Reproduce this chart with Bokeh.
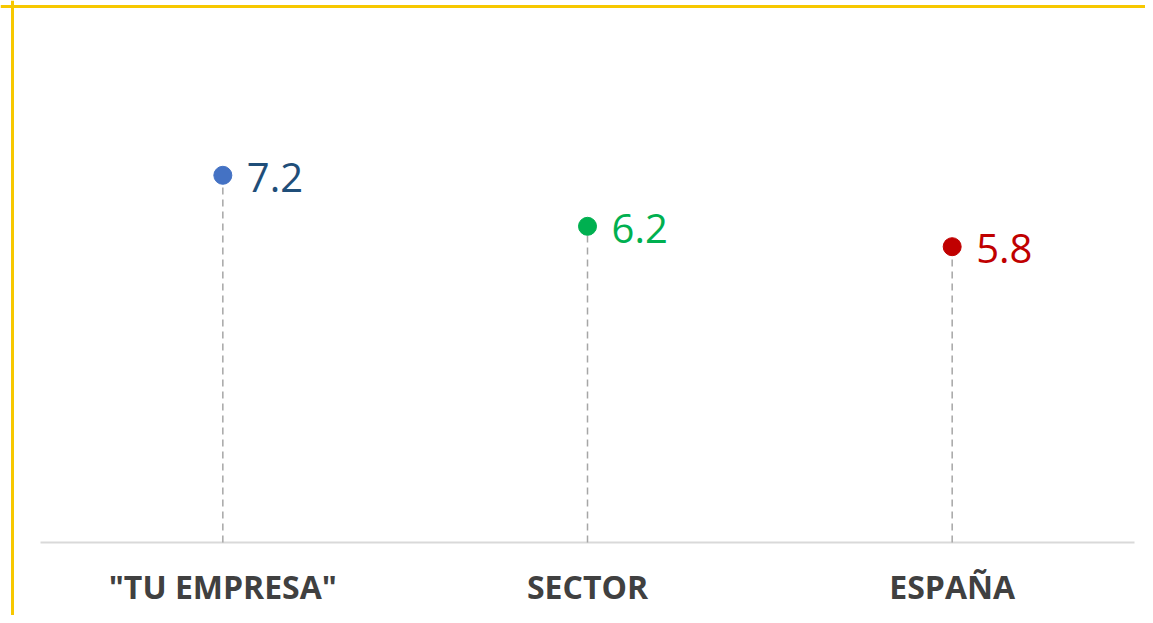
from bokeh.plotting import figure
from bokeh.models import ColumnDataSource, Range1d, Span
from bokeh.core.properties import value
from bokeh.embed import file_html
from bokeh.resources import INLINE

# ---- data ----
categories = ['"TU EMPRESA"', "SECTOR", "ESPAÑA"]
scores = [7.2, 6.2, 5.8]
dot_colors = ["#4472C4", "#00B050", "#C00000"]
label_colors = ["#1F4E79", "#00B050", "#C00000"]

# ---- layout constants ----
W, H = 1145, 615
CAT_PX = 364.67          # pixels per category slot
LEFT_EDGE = 40           # canvas x of plot-area left edge
BASE_Y = 542             # canvas y of the zero line
Y_PX = 51.0              # pixels per unit

xs = list(range(len(categories)))
x_start = -0.5 - LEFT_EDGE / CAT_PX
x_end = x_start + W / CAT_PX
y_start = -(H - BASE_Y) / Y_PX
y_end = BASE_Y / Y_PX

src = ColumnDataSource(dict(
    x=xs,
    y=scores,
    zero=[0] * len(xs),
    cat=categories,
    lab=[f"{v:.1f}" for v in scores],
    dot=dot_colors,
    lc=label_colors,
))

p = figure(width=W, height=H, output_backend="svg", toolbar_location=None,
           x_range=Range1d(x_start, x_end), y_range=Range1d(y_start, y_end),
           x_axis_location=None, y_axis_location=None,
           min_border=0, min_border_left=0, min_border_right=0,
           min_border_top=0, min_border_bottom=0)
p.grid.visible = False
p.outline_line_color = None
p.background_fill_color = "white"
p.border_fill_color = "white"

# yellow frame (top and left visible)
p.add_layout(Span(location=y_end - 6 / Y_PX, dimension="width",
                  line_color="#F7C800", line_width=3))
p.add_layout(Span(location=x_start + 12 / CAT_PX, dimension="height",
                  line_color="#F7C800", line_width=3))

# category axis line
p.segment(x0=[-0.5], y0=[0], x1=[len(categories) - 0.5], y1=[0],
          line_color="#D9D9D9", line_width=2)

# dashed stems
p.segment(x0="x", y0="zero", x1="x", y1="y", source=src,
          line_color="#A6A6A6", line_width=1.5, line_dash="7 5")

# dots
p.scatter(x="x", y="y", source=src, size=18, fill_color="dot",
          line_color="dot")

# value labels
p.text(x="x", y="y", text="lab", source=src, text_color="lc",
       text_font=value("Open Sans"), text_font_size="40px",
       text_baseline="middle", text_align="left", x_offset=24, y_offset=2)

# category labels
p.text(x="x", y="zero", text="cat", source=src, text_color="#404040",
       text_font=value("Open Sans"), text_font_size="32px",
       text_font_style="bold", text_baseline="middle", text_align="center",
       y_offset=44)

open("out.html", "w").write(file_html(p, INLINE))
